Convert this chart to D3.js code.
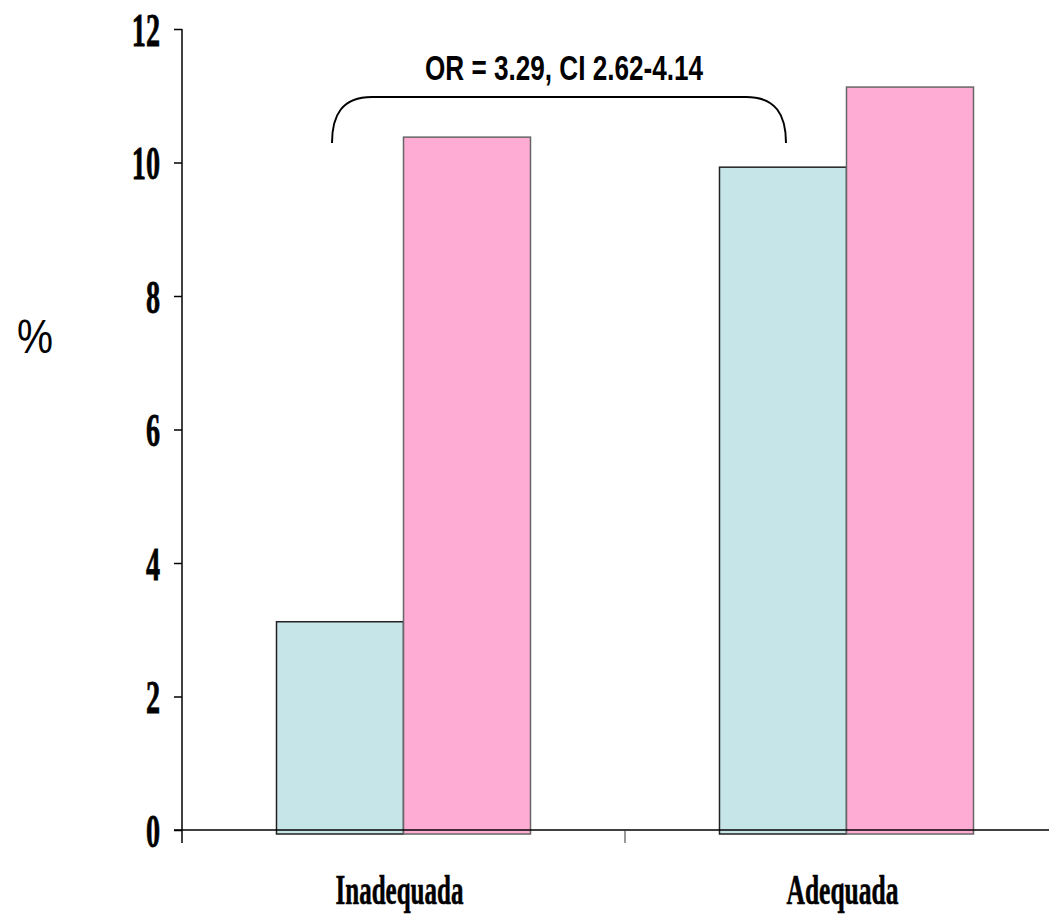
<!DOCTYPE html>
<html><head><meta charset="utf-8">
<script src="https://cdn.jsdelivr.net/npm/d3@7"></script>
<style>body{margin:0;background:#fff}svg{display:block}</style>
</head><body>
<svg id="c" width="1049" height="914"></svg>
<script>
const categories = ["Inadequada", "Adequada"];
const seriesNames = ["A", "B"];
const seriesA = [3.12, 9.93];
const seriesB = [10.38, 11.13];
const yTicks = [0, 2, 4, 6, 8, 10, 12];
const annotation = "OR = 3.29, CI 2.62-4.14";
const yLabel = "%";

const colors = {A: "#c6e5e8", B: "#ffacd5"};
const strokes = {A: "#222", B: "#666"};

const svg = d3.select("#c");
const y = d3.scaleLinear().domain([0, 12]).range([830, 29]);
const x0 = d3.scaleBand().domain(categories).range([182, 1068]).padding(0);
const x1 = d3.scaleBand().domain(seriesNames).range([0, x0.bandwidth()]).paddingInner(0).paddingOuter(0.744);

const data = categories.map((c, i) => ({cat: c, vals: [{s: "A", v: seriesA[i]}, {s: "B", v: seriesB[i]}]}));

// bars
const g = svg.append("g");
g.selectAll("g.grp").data(data).join("g").attr("class", "grp")
  .attr("transform", d => `translate(${x0(d.cat)},0)`)
  .selectAll("rect").data(d => d.vals).join("rect")
  .attr("x", d => x1(d.s)).attr("width", x1.bandwidth())
  .attr("y", d => y(d.v)).attr("height", d => y(0) + 4 - y(d.v))
  .attr("fill", d => colors[d.s]).attr("stroke", d => strokes[d.s]).attr("stroke-width", 1.5);

// y axis
const yAxis = d3.axisLeft(y).tickValues(yTicks).tickSize(8).tickSizeOuter(0).tickFormat(d3.format("d"));
const ya = svg.append("g").attr("transform", "translate(182,0)").call(yAxis);
ya.select(".domain").remove();
ya.selectAll(".tick line").attr("stroke", "#000").attr("stroke-width", 1.5);
ya.selectAll(".tick text").text(null);
ya.append("line").attr("x1", 0).attr("x2", 0).attr("y1", y(12)).attr("y2", y(0) + 13).attr("stroke", "#000").attr("stroke-width", 1.5);
ya.selectAll(".tick").each(function(d) {
  d3.select(this).append("text")
    .attr("transform", "translate(-22,0) scale(0.6,1)")
    .attr("text-anchor", "end").attr("dy", "0.35em")
    .attr("font-family", "'Liberation Serif', 'Times New Roman', serif")
    .attr("font-weight", "bold").attr("font-size", 47).attr("fill", "#000")
    .attr("stroke", "#000").attr("stroke-width", 0.8)
    .text(d);
});

// x axis
svg.append("line").attr("x1", 174).attr("x2", 1049).attr("y1", y(0)).attr("y2", y(0)).attr("stroke", "#000").attr("stroke-width", 1.5);
const bounds = categories.slice(1).map(c => x0(c));
svg.selectAll("line.xt").data(bounds).join("line").attr("class", "xt")
  .attr("x1", d => d).attr("x2", d => d).attr("y1", y(0)).attr("y2", y(0) + 13)
  .attr("stroke", "#333").attr("stroke-width", 1);

// category labels
svg.selectAll("text.cat").data(categories).join("text").attr("class", "cat")
  .attr("x", d => x0(d) + x0.bandwidth() / 2 - 4).attr("y", 904)
  .attr("text-anchor", "middle")
  .attr("font-family", "'Liberation Serif', 'Times New Roman', serif")
  .attr("font-weight", "bold").attr("font-size", 43)
  .attr("stroke", "#000").attr("stroke-width", 0.6)
  .attr("textLength", (d, i) => i === 0 ? 128 : 112).attr("lengthAdjust", "spacingAndGlyphs")
  .text(d => d);

// y label
svg.append("text").attr("x", 35).attr("y", 353).attr("text-anchor", "middle")
  .attr("font-family", "'Liberation Sans', Arial, sans-serif").attr("font-size", 48)
  .attr("textLength", 36).attr("lengthAdjust", "spacingAndGlyphs")
  .text(yLabel);

// bracket
const bx1 = 332, bx2 = 786, byTop = 97, byEnd = 143, rx = 36;
const path = d3.path();
path.moveTo(bx1, byEnd);
path.bezierCurveTo(bx1, byEnd - 28, bx1 + 10, byTop, bx1 + rx + 4, byTop);
path.lineTo(bx2 - rx - 4, byTop);
path.bezierCurveTo(bx2 - 10, byTop, bx2, byEnd - 28, bx2, byEnd);
svg.append("path").attr("d", path.toString()).attr("fill", "none").attr("stroke", "#000").attr("stroke-width", 2);

svg.append("text").attr("x", 564).attr("y", 80).attr("text-anchor", "middle")
  .attr("font-family", "'Liberation Sans', Arial, sans-serif").attr("font-weight", "bold").attr("font-size", 35)
  .attr("textLength", 278).attr("lengthAdjust", "spacingAndGlyphs")
  .text(annotation);
</script>
</body></html>
